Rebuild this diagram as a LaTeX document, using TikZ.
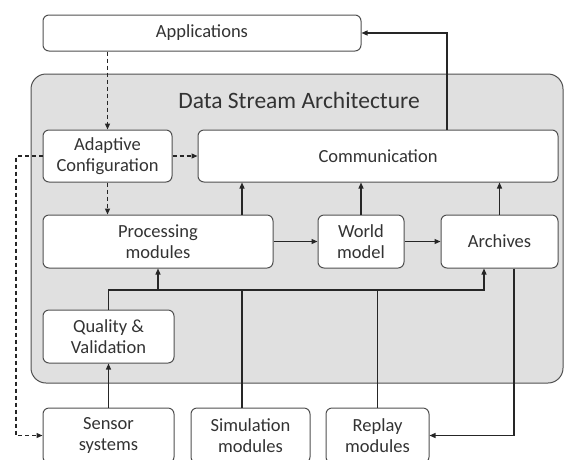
\documentclass[tikz,border=0pt]{standalone}
\usepackage{fontspec}
\setmainfont{Carlito}
\usetikzlibrary{arrows.meta,calc}
\definecolor{boxline}{HTML}{505050}
\definecolor{txt}{HTML}{333333}
\definecolor{grayfill}{HTML}{E0E0E0}
\begin{document}
\begin{tikzpicture}[x=1pt,y=-1pt,
  box/.style={draw=boxline, fill=white, rounded corners=6pt, line width=1pt, inner sep=0pt, align=center, font=\fontsize{18.5}{21.5}\selectfont, text=txt},
  conn/.style={line width=1.2pt, draw=black!85, -{Triangle[length=6pt,width=5pt]}},
  dconn/.style={conn, dash pattern=on 4pt off 3pt},
  plain/.style={line width=1.2pt, draw=black!85},
  dplain/.style={plain, dash pattern=on 4pt off 3pt}]
\useasboundingbox (0,0) rectangle (564,459);
% container
\node[draw=boxline, fill=grayfill, line width=1pt, rounded corners=15pt, minimum width=532pt, minimum height=309pt, inner sep=0pt] (dsa) at (297,228.5) {};
\node[font=\fontsize{23.5}{26}\selectfont, text=txt] (title) at (299,100) {Data Stream Architecture};
% boxes
\node[box, minimum width=318pt, minimum height=36pt] (app) at (202,33) {Applications};
\node[box, minimum width=129pt, minimum height=52pt] (adapt) at (107.5,156) {Adaptive\\Configuration};
\node[box, minimum width=360pt, minimum height=52pt] (comm) at (378,156) {Communication};
\node[box, minimum width=230pt, minimum height=53pt] (proc) at (158,241.5) {Processing\\modules};
\node[box, minimum width=86pt, minimum height=53pt] (world) at (361,241.5) {World\\model};
\node[box, minimum width=117pt, minimum height=53pt] (arch) at (499.5,241.5) {Archives};
\node[box, minimum width=131pt, minimum height=53pt] (qual) at (108.5,336.5) {Quality \&\\Validation};
\node[box, minimum width=131pt, minimum height=55pt] (sensor) at (108.5,435.5) {Sensor\\systems};
\node[box, minimum width=119pt, minimum height=55pt] (sim) at (250.5,435.5) {Simulation\\modules};
\node[box, minimum width=103pt, minimum height=55pt] (replay) at (377.5,435.5) {Replay\\modules};
% helper coordinates
\coordinate (dl) at (16,435.5);
\coordinate (cx) at (447,0);
\coordinate (px) at (242,0);
\coordinate (bus) at (0,290);
\coordinate (ax) at (484,0);
\coordinate (ox) at (514,0);
% dashed connectors
\draw[dconn] (app.south -| adapt.north) -- (adapt.north);
\draw[dconn] (adapt.east) -- (comm.west);
\draw[dconn] (adapt.south) -- (adapt.south |- proc.north);
\draw[dconn] (adapt.west) -| (dl) -- (sensor.west);
% solid connectors
\draw[conn] (cx |- comm.north) |- (app.east);
\draw[conn] (proc.east) -- (world.west);
\draw[conn] (world.east) -- (arch.west);
\draw[conn] (px |- proc.north) -- (px |- comm.south);
\draw[conn] (world.north) -- (world.north |- comm.south);
\draw[conn] (arch.north) -- (arch.north |- comm.south);
\draw[conn] (sensor.north) -- (qual.south);
\draw[conn] (qual.north) |- (ax |- bus) -- (ax |- arch.south);
\draw[conn] (proc.south |- bus) -- (proc.south);
\draw[plain] (px |- sim.north) -- (px |- bus);
\draw[plain] (replay.north) -- (replay.north |- bus);
\draw[conn] (ox |- arch.south) |- (replay.east);
\end{tikzpicture}
\end{document}
